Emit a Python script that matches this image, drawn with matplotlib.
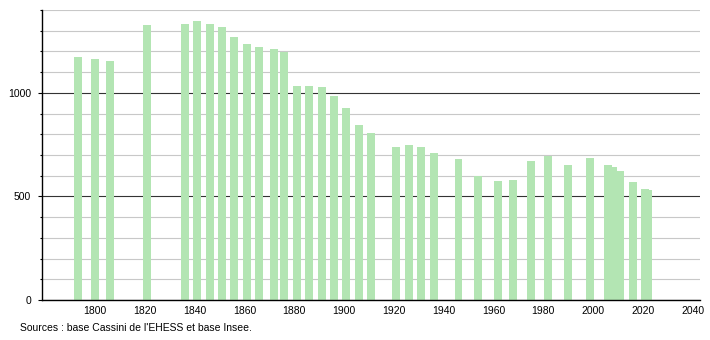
import matplotlib.pyplot as plt
from matplotlib.ticker import MultipleLocator

years = [1793, 1800, 1806, 1821, 1836, 1841, 1846, 1851, 1856, 1861,
         1866, 1872, 1876, 1881, 1886, 1891, 1896, 1901, 1906, 1911,
         1921, 1926, 1931, 1936, 1946, 1954, 1962, 1968, 1975, 1982,
         1990, 1999, 2006, 2008, 2011, 2016, 2021, 2022]
population = [1175, 1165, 1152, 1327, 1332, 1345, 1332, 1320, 1272, 1235,
              1222, 1214, 1199, 1035, 1035, 1030, 986, 926, 846, 807,
              739, 746, 739, 710, 681, 597, 576, 581, 672, 694,
              654, 686, 654, 644, 625, 570, 535, 530]
x_ticks = list(range(1800, 2041, 20))
source = "Sources : base Cassini de l'EHESS et base Insee."

plt.rcParams['font.family'] = ['Liberation Sans', 'DejaVu Sans']

fig = plt.figure(figsize=(7.1, 3.4), dpi=100)
ax = fig.add_axes([42 / 710, 1 - 300 / 340, 658 / 710, 290 / 340])

ax.bar(years, population, width=3.2, color='#b3e5b3', zorder=3)

ax.set_xlim(1778.7, 2043)
ax.set_ylim(0, 1400)
ax.set_xticks(x_ticks)
ax.yaxis.set_major_locator(MultipleLocator(500))
ax.yaxis.set_minor_locator(MultipleLocator(100))

ax.grid(axis='y', which='minor', color='#c8c8c8', linewidth=0.8, zorder=1)
ax.grid(axis='y', which='major', color='#333333', linewidth=0.8, zorder=2)

for side in ['top', 'right']:
    ax.spines[side].set_visible(False)
for side in ['left', 'bottom']:
    ax.spines[side].set_color('black')
    ax.spines[side].set_linewidth(1)
    ax.spines[side].set_zorder(4)

ax.tick_params(axis='x', length=0, pad=4, labelsize=7.5)
ax.tick_params(axis='y', which='major', length=3, width=0.8, pad=5, labelsize=7.5)
ax.tick_params(axis='y', which='minor', length=1.5, width=0.8)

fig.text(20 / 710, 1 - 328 / 340, source, fontsize=7.5, va='center')

fig.savefig('out.png', dpi=100)
